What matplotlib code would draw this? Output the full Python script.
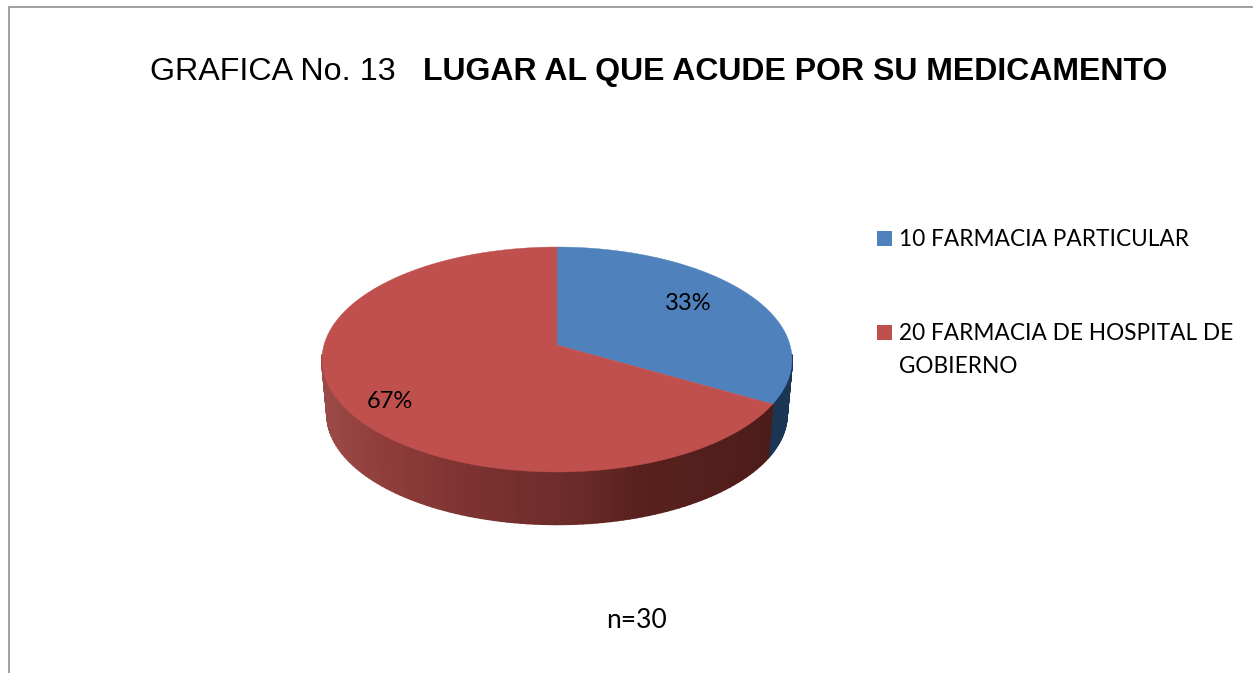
import numpy as np
import matplotlib
matplotlib.use('Agg')
import matplotlib.pyplot as plt
from matplotlib.collections import PolyCollection
from matplotlib.colors import LinearSegmentedColormap

labels = ['10 FARMACIA PARTICULAR', '20 FARMACIA DE HOSPITAL DE\nGOBIERNO']
values = [10, 20]
colors = ['#4f81bd', '#c0504d']
title_start = 'GRAFICA No. 13'
title_bold = 'LUGAR AL QUE ACUDE POR SU MEDICAMENTO'
note = 'n=30'

# pie geometry in pixels, the perspective makes the front bigger than the back
cx, cy = 557, 345
rx, ry = 233, 110.6
persp = 0.129
depth = 55
shrink = 0.978


def project(t, scale=1.0, dy=0.0):
    d = 1 + persp * np.sin(t)
    return cx + scale * rx * np.cos(t) / d, cy + dy - scale * ry * np.sin(t) / d


fig = plt.figure(figsize=(12.53, 6.73), dpi=100)
ax = fig.add_axes([0, 0, 1, 1])
ax.set_xlim(0, 1253)
ax.set_ylim(673, 0)
ax.axis('off')

# chart frame, only top and left fall inside the picture
ax.plot([8.5, 8.5, 1253], [673, 6.5, 6.5], color='#868686', lw=1.1, solid_joinstyle='miter')

total = sum(values)
edges = np.pi / 2 - 2 * np.pi * np.cumsum([0] + values) / total

red_wall = LinearSegmentedColormap.from_list('red_wall', [
    (0.0, '#9a4946'), (0.12, '#903e3b'), (0.3, '#7d3331'), (0.55, '#6b2b29'),
    (0.68, '#5a211e'), (1.0, '#4c1c1a')])
blue_wall = LinearSegmentedColormap.from_list('blue_wall', ['#1f4064', '#1b3654'])
walls = [blue_wall, red_wall]

# side wall
for i in range(len(values)):
    ts = np.linspace(edges[i], edges[i + 1], 160)
    ts = ts[np.sin(ts) < -0.08]
    polys, cols = [], []
    for a, b in zip(ts[:-1], ts[1:]):
        xa, ya = project(a)
        xb, yb = project(b)
        xc, yc = project(b, shrink, depth)
        xd, yd = project(a, shrink, depth)
        polys.append([(xa, ya), (xb, yb), (xc, yc), (xd, yd)])
        cols.append(walls[i](np.clip((xa - 327) / (786 - 327), 0, 1)))
    ax.add_collection(PolyCollection(polys, facecolors=cols, edgecolors=cols, linewidths=1.5))

# top face
for i in range(len(values)):
    ts = np.linspace(edges[i], edges[i + 1], 300)
    xs, ys = project(ts)
    ax.fill(np.r_[cx, xs], np.r_[cy, ys], color=colors[i], lw=0.3)

pct_pos = [(688, 304), (390, 401)]
for v, (x, y) in zip(values, pct_pos):
    ax.text(x, y, f'{v / total:.0%}', ha='center', va='center', fontsize=17,
            family='Lato', color='black')

ax.text(150, 72, title_start, ha='left', va='center', fontsize=23.2, family='Liberation Sans')
ax.text(423, 72, title_bold, ha='left', va='center', fontsize=23.05, family='Liberation Sans',
        fontweight='bold')

leg_y = [238.5, 332.5]
for lab, c, y in zip(labels, colors, leg_y):
    ax.fill([877, 892, 892, 877], [y - 7.5, y - 7.5, y + 7.5, y + 7.5], color=c, lw=0)
    ax.text(899, y - 9, lab, ha='left', va='top', fontsize=16.3, family='Lato', linespacing=1.65)

ax.text(636, 620, note, ha='center', va='center', fontsize=19, family='Lato')

fig.savefig('out.png', dpi=100)
